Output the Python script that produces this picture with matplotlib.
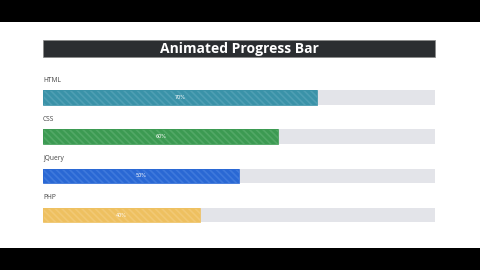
import matplotlib
matplotlib.use("Agg")
import matplotlib.pyplot as plt
from matplotlib.patches import Rectangle

title = "Animated Progress Bar"
skills = ["HTML", "CSS", "jQuery", "PHP"]
percents = [70, 60, 50, 40]
fill_colors = ["#3a92a8", "#3c9a52", "#2a68d4", "#eec060"]
stripe_colors = ["#4f9fb4", "#52a866", "#3f79dc", "#f2c975"]
track_color = "#e3e4e9"

plt.rcParams["hatch.linewidth"] = 1.2

W, H = 480, 270
fig = plt.figure(figsize=(W / 100, H / 100), dpi=100)
fig.patch.set_facecolor("white")

def px(x, y, w, h):
    return (x / W, 1 - (y + h) / H, w / W, h / H)

# black letterbox bands
for (x, y, w, h) in [(0, 0, W, 22), (0, 248, W, 22)]:
    l, b, ww, hh = px(x, y, w, h)
    fig.patches.append(Rectangle((l, b), ww, hh, transform=fig.transFigure,
                                 facecolor="black", edgecolor="none"))

# title bar
l, b, ww, hh = px(43, 40, 392, 17)
fig.patches.append(Rectangle((l, b), ww, hh, transform=fig.transFigure,
                             facecolor="#2b2e31", edgecolor="#888888", linewidth=0.5))
fig.text(l + ww / 2, b + hh / 2, title, color="white", fontsize=10,
         fontweight="bold", ha="center", va="center", family="Open Sans")

# bars axes: index 0 centre at 97.5 px, spacing 39.2 px
top_px, bot_px = 60, 240
c0, sp = 97.5, 39.2
ax = fig.add_axes(px(43, top_px, 392, bot_px - top_px))
ax.set_xlim(0, 100)
ax.set_ylim((bot_px - c0) / sp, (top_px - c0) / sp)
ax.axis("off")

ypos = list(range(len(skills)))
bh = 14.5 / sp
ax.barh(ypos, [100] * len(skills), height=bh, color=track_color, edgecolor="none")
for i, (s, p, fc, sc) in enumerate(zip(skills, percents, fill_colors, stripe_colors)):
    ax.barh(i, p, height=bh, color=fc, edgecolor=sc, linewidth=0, hatch="\\\\\\\\\\")
    ax.barh(i, p, height=bh, color="none", edgecolor=fc, linewidth=0.6)
    ax.text(p / 2, i, f"{p}%", color="white", fontsize=3.5, ha="center", va="center")
    ax.text(0, i - 0.44, s, color="#444444", fontsize=4.8, ha="left", va="center",
            family="Open Sans")

fig.savefig("out.png", dpi=100)
